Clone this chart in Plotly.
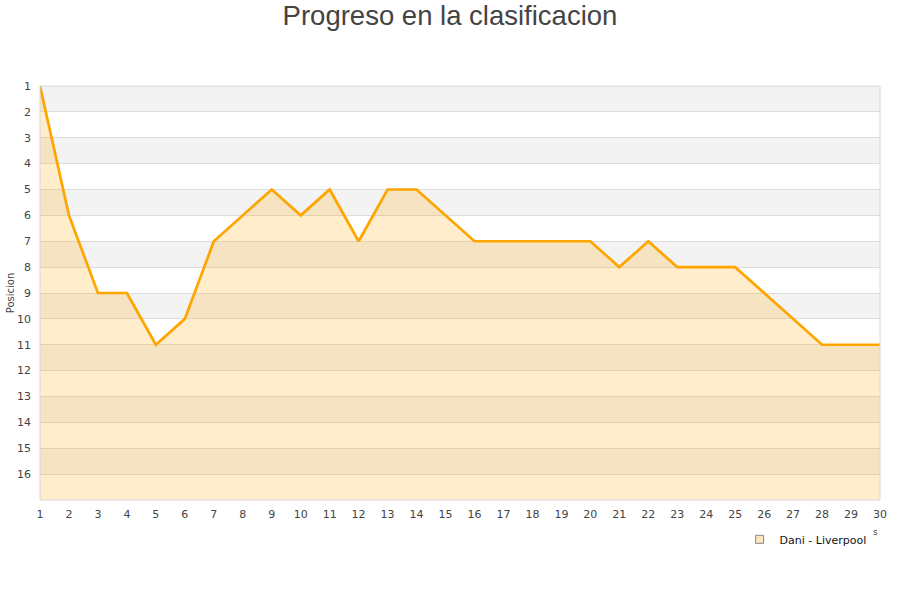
import plotly.graph_objects as go

jornadas = list(range(1, 31))
posiciones = [1, 6, 9, 9, 11, 10, 7, 6, 5, 6, 5, 7, 5, 5, 6, 7, 7, 7, 7, 7, 8, 7, 8, 8, 8, 9, 10, 11, 11, 11]
serie = "Dani - Liverpool"
titulo = "Progreso en la clasificacion"
y_ticks = list(range(1, 17))

fig = go.Figure()

# baseline for the fill (bottom of the reversed axis)
fig.add_trace(go.Scatter(x=jornadas, y=[17] * len(jornadas), mode="lines",
                         line=dict(width=0, color="rgba(0,0,0,0)"),
                         showlegend=False, hoverinfo="skip"))
fig.add_trace(go.Scatter(x=jornadas, y=posiciones, mode="lines",
                         line=dict(color="#FFA500", width=2.7),
                         fill="tonexty", fillcolor="rgba(255,165,0,0.2)",
                         showlegend=False, name=serie))
fig.add_trace(go.Scatter(x=[None], y=[None], mode="markers", name=serie,
                         marker=dict(symbol="square", size=8,
                                     color="#FDE6C2",
                                     line=dict(color="#888888", width=1))))

shapes = []
for k in range(1, 17, 2):
    shapes.append(dict(type="rect", xref="paper", yref="y", x0=0, x1=1,
                       y0=k, y1=k + 1, fillcolor="#F3F3F3",
                       line=dict(width=0), layer="below"))
shapes.append(dict(type="rect", xref="paper", yref="paper", x0=0, x1=1, y0=0, y1=1,
                   line=dict(color="#D8D8D8", width=1), fillcolor="rgba(0,0,0,0)",
                   layer="above"))
fig.update_layout(shapes=shapes)

fig.update_layout(
    width=900, height=600,
    margin=dict(l=40, r=20, t=86, b=100, autoexpand=False),
    paper_bgcolor="white", plot_bgcolor="white",
    title=dict(text=titulo, x=0.5, xanchor="center", y=0.975, yanchor="middle",
               font=dict(family="Liberation Sans, Arial, sans-serif", size=27.5, color="#444444")),
    font=dict(family="DejaVu Sans, sans-serif", size=11, color="#444444"),
    xaxis=dict(range=[1, 30], tickmode="array", tickvals=jornadas, automargin=False,
               showgrid=False, zeroline=False, showline=False, ticks="",
               ticklabelstandoff=6,
               tickfont=dict(size=11, color="#444444")),
    yaxis=dict(range=[17, 1], tickmode="array", tickvals=y_ticks, automargin=False,
               showgrid=True, gridcolor="#DDDDDD", gridwidth=1, zeroline=False,
               showline=False, ticks="", ticklabelstandoff=8,
               title=dict(text="Posicion", font=dict(size=10, color="#444444"), standoff=0),
               tickfont=dict(size=11, color="#444444")),
    legend=dict(x=0.99, xanchor="right", y=-0.06, yanchor="top",
                font=dict(size=11, color="#111111"), bgcolor="rgba(0,0,0,0)"),
    showlegend=True,
)

fig.add_annotation(text="s", xref="paper", yref="paper", x=0.995, y=-0.077,
                   xanchor="center", yanchor="middle", showarrow=False,
                   font=dict(size=9, color="#444444"))

fig.write_html("out.html", config={"displayModeBar": False},
               post_script="document.body.style.margin='0';")
